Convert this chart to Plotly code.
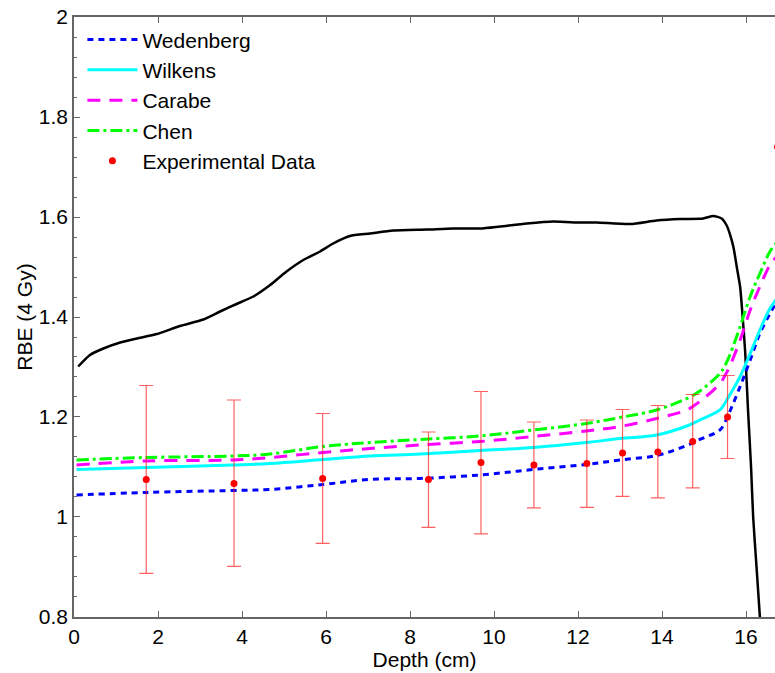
import plotly.graph_objects as go

# black reference curve
dose_x = [0.10, 0.38, 0.70, 1.10, 1.49, 1.97, 2.52, 3.08, 3.48, 3.87, 4.27, 4.67, 5.06, 5.46,
          5.86, 6.17, 6.57, 7.05, 7.60, 8.40, 9.03, 9.67, 10.14, 10.78, 11.41, 12.05, 12.44,
          13.24, 13.87, 14.43, 14.98, 15.22, 15.42, 15.54, 15.62, 15.70, 15.78, 15.86, 15.92,
          15.98, 16.05, 16.12, 16.17, 16.25, 16.33, 16.37]
dose_y = [1.301, 1.324, 1.337, 1.349, 1.357, 1.366, 1.382, 1.395, 1.411, 1.426, 1.441, 1.464,
          1.491, 1.514, 1.531, 1.547, 1.562, 1.567, 1.573, 1.575, 1.577, 1.577, 1.581, 1.587,
          1.591, 1.589, 1.589, 1.586, 1.593, 1.596, 1.597, 1.602, 1.597, 1.583, 1.565, 1.54,
          1.50, 1.46, 1.40, 1.33, 1.21, 1.10, 1.00, 0.90, 0.80, 0.74]

model_x = [0.06, 1.72, 3.79, 4.67, 5.93, 7.05, 8.24, 9.67, 10.94, 12.2, 13.0, 13.87, 14.59,
           14.9, 15.38, 15.5, 15.62, 15.86, 16.1, 16.33, 16.57, 16.72]
wedenberg = [1.044, 1.049, 1.053, 1.055, 1.065, 1.075, 1.077, 1.084, 1.095, 1.105, 1.114,
             1.123, 1.143, 1.155, 1.174, 1.19, 1.212, 1.261, 1.314, 1.367, 1.407, 1.428]
wilkens = [1.095, 1.099, 1.104, 1.107, 1.115, 1.122, 1.126, 1.133, 1.139, 1.149, 1.157,
           1.164, 1.182, 1.194, 1.214, 1.228, 1.245, 1.281, 1.327, 1.374, 1.417, 1.435]
carabe = [1.104, 1.112, 1.114, 1.119, 1.129, 1.137, 1.144, 1.151, 1.161, 1.172, 1.181,
          1.197, 1.214, 1.231, 1.267, 1.283, 1.303, 1.354, 1.414, 1.461, 1.504, 1.52]
chen = [1.114, 1.119, 1.122, 1.126, 1.141, 1.149, 1.155, 1.162, 1.174, 1.187, 1.199,
        1.214, 1.237, 1.252, 1.287, 1.303, 1.325, 1.381, 1.441, 1.487, 1.531, 1.548]

exp_x = [1.72, 3.81, 5.92, 8.44, 9.69, 10.95, 12.21, 13.06, 13.9, 14.73, 15.56, 16.75]
exp_y = [1.075, 1.067, 1.077, 1.075, 1.109, 1.104, 1.107, 1.128, 1.13, 1.151, 1.20, 1.74]
exp_hi = [1.263, 1.234, 1.207, 1.17, 1.251, 1.19, 1.194, 1.215, 1.223, 1.245, 1.283]
exp_lo = [0.887, 0.901, 0.947, 0.979, 0.966, 1.018, 1.019, 1.041, 1.038, 1.058, 1.117]

# the last point sits on the cropped right edge, its bar is out of view
n_bars = len(exp_hi)
err_plus = [h - y for h, y in zip(exp_hi, exp_y)]
err_minus = [y - l for y, l in zip(exp_y, exp_lo)]

fig = go.Figure()
fig.add_trace(go.Scatter(x=dose_x, y=dose_y, mode="lines", showlegend=False,
                         line=dict(color="black", width=2.5, shape="spline", smoothing=0.6)))
fig.add_trace(go.Scatter(x=model_x, y=wedenberg, mode="lines", name="Wedenberg",
                         line=dict(color="#0000ff", width=3, dash="6px,5px", shape="spline")))
fig.add_trace(go.Scatter(x=model_x, y=wilkens, mode="lines", name="Wilkens",
                         line=dict(color="#00ffff", width=3, shape="spline")))
fig.add_trace(go.Scatter(x=model_x, y=carabe, mode="lines", name="Carabe",
                         line=dict(color="#ff00ff", width=3, dash="13px,9px", shape="spline")))
fig.add_trace(go.Scatter(x=model_x, y=chen, mode="lines", name="Chen",
                         line=dict(color="#00ff00", width=3, dash="12px,4px,3px,4px",
                                   shape="spline")))
fig.add_trace(go.Scatter(x=exp_x[:n_bars], y=exp_y[:n_bars], mode="markers",
                         name="Experimental Data", legendgroup="exp",
                         marker=dict(color="#ff0000", size=7),
                         error_y=dict(type="data", symmetric=False, array=err_plus,
                                      arrayminus=err_minus, color="rgba(255,30,30,0.7)",
                                      thickness=1.2, width=7)))
fig.add_trace(go.Scatter(x=exp_x[n_bars:], y=exp_y[n_bars:], mode="markers",
                         legendgroup="exp", showlegend=False,
                         marker=dict(color="#ff0000", size=7)))

fig.update_layout(
    width=775, height=673,
    margin=dict(l=74, r=0, t=17, b=56),
    plot_bgcolor="white", paper_bgcolor="white",
    font=dict(family="Liberation Sans, Arial, sans-serif", size=21, color="black"),
    legend=dict(x=0.012, y=0.996, xanchor="left", yanchor="top", bgcolor="rgba(0,0,0,0)",
                font=dict(size=21), tracegroupgap=0, itemwidth=50),
    xaxis=dict(range=[0, 16.69], tickvals=[0, 2, 4, 6, 8, 10, 12, 14, 16],
               ticks="inside", ticklen=6, tickcolor="#666", showline=True, linecolor="#666",
               linewidth=1.5, mirror="ticks", showgrid=False, zeroline=False,
               title=dict(text="Depth (cm)", standoff=2, font=dict(size=21))),
    yaxis=dict(range=[0.7999, 2.0001], tickvals=[0.8, 1.0, 1.2, 1.4, 1.6, 1.8, 2.0],
               ticktext=["0.8", "1", "1.2", "1.4", "1.6", "1.8", "2"],
               ticks="inside", ticklen=6, tickcolor="#666",
               showline=True, linecolor="#666", linewidth=1.5, showgrid=False, zeroline=False,
               minor=dict(dtick=0.04, ticks="inside", ticklen=3, tickcolor="#666"),
               title=dict(text="RBE (4 Gy)", standoff=0, font=dict(size=21))),
)

# drop the default page margin so the figure fills the window
fig.write_html("out.html", config={"displayModeBar": False},
               post_script="document.body.style.margin='0';document.body.style.overflow='hidden';")
